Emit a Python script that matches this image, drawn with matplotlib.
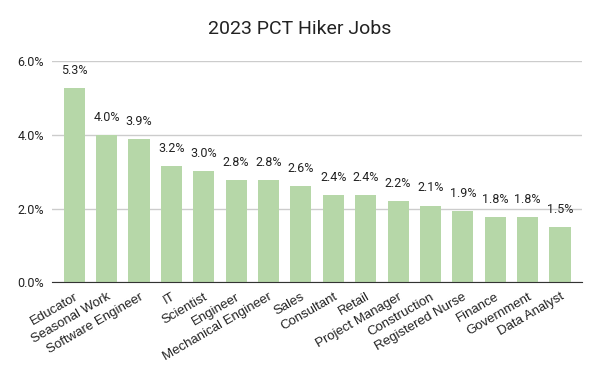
import matplotlib
matplotlib.use("Agg")
import matplotlib.pyplot as plt
from matplotlib.ticker import FuncFormatter

jobs = ["Educator", "Seasonal Work", "Software Engineer", "IT", "Scientist",
        "Engineer", "Mechanical Engineer", "Sales", "Consultant", "Retail",
        "Project Manager", "Construction", "Registered Nurse", "Finance",
        "Government", "Data Analyst"]
share = [5.26, 3.98, 3.87, 3.16, 3.02, 2.76, 2.76, 2.62, 2.36, 2.36,
         2.2, 2.08, 1.93, 1.78, 1.78, 1.5]
y_ticks = [0, 2, 4, 6]

plt.rcParams["font.family"] = ["Roboto", "DejaVu Sans"]

fig = plt.figure(figsize=(6, 3.71), dpi=100)
ax = fig.add_axes([0.087, 0.239, 0.883, 0.597])

x = range(len(jobs))
ax.bar(x, share, width=0.65, color="#b6d7a8", zorder=2)
for xi, v in zip(x, share):
    ax.annotate(f"{v:.1f}%", (xi, v), xytext=(0, 8), textcoords="offset points",
                ha="center", va="bottom", fontsize=9, color="#222222")

ax.set_xlim(-0.68, len(jobs) - 1 + 0.68)
ax.set_ylim(0, 6)
ax.set_yticks(y_ticks)
ax.yaxis.set_major_formatter(FuncFormatter(lambda v, _: f"{v:.1f}%"))
ax.set_xticks(list(x))
ax.set_xticklabels(jobs, rotation=30, ha="right", rotation_mode="anchor",
                   family=["Liberation Sans", "DejaVu Sans"], fontsize=9.5)
ax.tick_params(axis="both", length=0, labelsize=9, labelcolor="#222222")
ax.tick_params(axis="x", pad=6, labelsize=9.5)
ax.tick_params(axis="y", pad=6)
ax.grid(axis="y", color="#cccccc", linewidth=1, zorder=0)
for s in ["top", "right", "left"]:
    ax.spines[s].set_visible(False)
ax.spines["bottom"].set_color("#333333")
ax.spines["bottom"].set_zorder(3)

fig.suptitle("2023 PCT Hiker Jobs", y=0.945, fontsize=14, color="#222222")
fig.savefig("out.png", dpi=100)
